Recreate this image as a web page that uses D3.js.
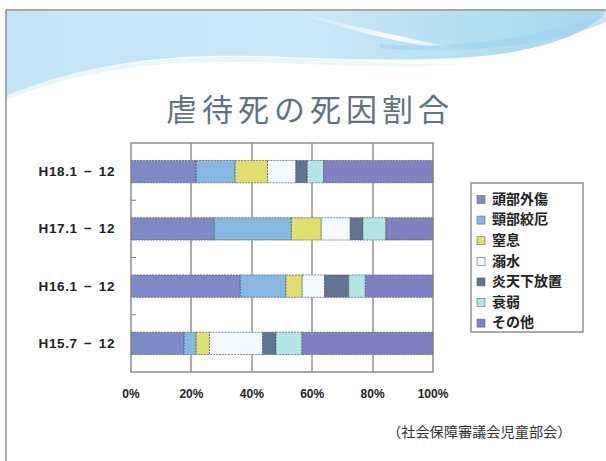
<!DOCTYPE html>
<html>
<head>
<meta charset="utf-8">
<script src="https://cdn.jsdelivr.net/npm/d3@7"></script>
<style>
  html, body { margin: 0; padding: 0; background: #fff; }
</style>
</head>
<body>
<svg id="chart" width="606" height="461"></svg>
<script>
// Periods (top to bottom) and causes of death, shares in percent
const periods = ["H18.1 − 12", "H17.1 − 12", "H16.1 − 12", "H15.7 − 12"];
const causes = ["頭部外傷", "頸部絞厄", "窒息", "溺水", "炎天下放置", "衰弱", "その他"];
const headInjury   = [21.6, 27.6, 36.2, 17.6];
const strangling   = [12.9, 25.5, 15.1, 4.0];
const suffocation  = [10.7, 9.9, 5.4, 4.4];
const drowning     = [9.4, 9.6, 7.4, 17.6];
const heatExposure = [3.8, 4.2, 8.0, 4.4];
const weakness     = [5.4, 7.6, 5.5, 8.6];
const other        = [36.2, 15.6, 22.4, 43.4];
const tickLabels = ["0%", "20%", "40%", "60%", "80%", "100%"];
const gridValues = [20, 40, 60, 80];
const colors = ["#7e8ac6", "#86b8e2", "#e0de6e", "#f3fafd", "#5f7590", "#b3e5e5", "#8180c0"];

const seriesValues = [headInjury, strangling, suffocation, drowning, heatExposure, weakness, other];
const rows = periods.map((p, i) => {
  const r = { period: p };
  causes.forEach((c, k) => { r[c] = seriesValues[k][i]; });
  return r;
});

const svg = d3.select("#chart");

// Scales
const x = d3.scaleLinear().domain([0, 100]).range([131, 433]);
const y = d3.scaleBand().domain(periods).range([143, 372]).paddingInner(0.61).paddingOuter(0.305);

// Slide decoration: light blue waves across the top
const defs = svg.append("defs");
const g1 = defs.append("linearGradient").attr("id", "waveA").attr("x1", 0).attr("y1", 0).attr("x2", 1).attr("y2", 0);
g1.append("stop").attr("offset", "0%").attr("stop-color", "#c2e4f4");
g1.append("stop").attr("offset", "50%").attr("stop-color", "#c8e8f6");
g1.append("stop").attr("offset", "100%").attr("stop-color", "#a5d7ef");
const g2 = defs.append("linearGradient").attr("id", "waveB").attr("x1", 0).attr("y1", 0).attr("x2", 1).attr("y2", 0);
g2.append("stop").attr("offset", "0%").attr("stop-color", "#ffffff").attr("stop-opacity", 0);
g2.append("stop").attr("offset", "60%").attr("stop-color", "#ffffff").attr("stop-opacity", 0.9);
g2.append("stop").attr("offset", "100%").attr("stop-color", "#ffffff").attr("stop-opacity", 0.2);

svg.append("path")
  .attr("d", "M6,11 L606,11 L606,12 C590,30 560,45 500,54 C440,62 360,60 260,56 C170,54 90,62 6,96 Z")
  .attr("fill", "url(#waveA)");
svg.append("path")
  .attr("d", "M6,96 C80,64 160,56 250,57 C330,58 400,66 460,64 C400,70 320,64 250,62 C160,60 80,70 6,100 Z")
  .attr("fill", "#e6f4fa").attr("opacity", 0.8);
svg.append("path")
  .attr("d", "M290,11 C340,22 400,38 470,50 C420,48 360,34 300,14 Z")
  .attr("fill", "url(#waveB)");
svg.append("path")
  .attr("d", "M380,44 C450,50 540,38 606,14 L606,22 C560,42 480,56 380,48 Z")
  .attr("fill", "#9fd2ec").attr("opacity", 0.6);

// Title
svg.append("text")
  .attr("x", 310).attr("y", 113)
  .attr("text-anchor", "middle").attr("dominant-baseline", "middle")
  .attr("font-family", "'Noto Sans CJK JP', sans-serif")
  .attr("font-size", 31).attr("letter-spacing", 5)
  .attr("fill", "#5f7384")
  .text("虐待死の死因割合");

const plot = svg.append("g");

// Stacked bars
const stack = d3.stack().keys(causes);
const layers = stack(rows);
const color = d3.scaleOrdinal().domain(causes).range(colors);

plot.selectAll(".layer").data(layers).join("g")
  .attr("class", "layer")
  .attr("fill", d => color(d.key))
  .selectAll("rect").data(d => d).join("rect")
  .attr("x", d => x(d[0]))
  .attr("y", d => y(d.data.period))
  .attr("width", d => x(d[1]) - x(d[0]))
  .attr("height", y.bandwidth())
  .attr("stroke", "#4e5566").attr("stroke-width", 0.7).attr("stroke-dasharray", "2,1");

// Category labels
svg.append("g").selectAll("text").data(periods).join("text")
  .attr("x", 115).attr("y", d => y(d) + y.bandwidth() / 2 + 1)
  .attr("text-anchor", "end").attr("dominant-baseline", "middle")
  .attr("font-family", "'Liberation Sans', Arial, sans-serif")
  .attr("font-weight", "bold").attr("font-size", 13.5)
  .attr("fill", "#222")
  .attr("letter-spacing", 0.6)
  .attr("word-spacing", 2)
  .text(d => d);

// Percentage tick labels
svg.append("g").selectAll("text").data(tickLabels).join("text")
  .attr("x", (d, i) => x(i * 20)).attr("y", 395)
  .attr("text-anchor", "middle").attr("dominant-baseline", "middle")
  .attr("font-family", "'Liberation Sans', Arial, sans-serif")
  .attr("font-weight", "bold").attr("font-size", 12)
  .attr("fill", "#222")
  .text(d => d);

// Legend
const legend = svg.append("g");
legend.append("rect")
  .attr("x", 471).attr("y", 183).attr("width", 112).attr("height", 149)
  .attr("fill", "#fff").attr("stroke", "#808080").attr("stroke-width", 1.3);
const items = legend.selectAll(".item").data(causes).join("g")
  .attr("class", "item")
  .attr("transform", (d, i) => `translate(477, ${199.5 + i * 20.6})`);
items.append("rect")
  .attr("x", 0).attr("y", -4).attr("width", 8).attr("height", 8)
  .attr("fill", d => color(d)).attr("stroke", "#666").attr("stroke-width", 0.6);
items.append("text")
  .attr("x", 15).attr("y", 0.5)
  .attr("dominant-baseline", "middle")
  .attr("font-family", "'Noto Sans CJK JP', sans-serif")
  .attr("font-weight", "bold").attr("font-size", 14)
  .attr("fill", "#222")
  .text(d => d);

// Source note
svg.append("text")
  .attr("x", 387).attr("y", 433)
  .attr("dominant-baseline", "middle")
  .attr("font-family", "'Noto Sans CJK JP', sans-serif")
  .attr("font-size", 14.2)
  .attr("fill", "#333")
  .text("（社会保障審議会児童部会）");

// Gridlines, drawn in the gaps between the bars
const plotTop = y.range()[0], plotBottom = y.range()[1];
const gaps = [];
let prevEdge = plotTop;
periods.forEach(p => { gaps.push([prevEdge, y(p)]); prevEdge = y(p) + y.bandwidth(); });
gaps.push([prevEdge, plotBottom]);
const gridSegs = [];
gridValues.forEach(v => gaps.forEach(g => gridSegs.push({ v, y0: g[0], y1: g[1] })));
const lines = svg.append("g");
lines.selectAll(".grid").data(gridSegs).join("line")
  .attr("class", "grid")
  .attr("x1", d => Math.round(x(d.v))).attr("x2", d => Math.round(x(d.v)))
  .attr("y1", d => d.y0).attr("y2", d => d.y1)
  .attr("stroke", "#8a8a8a").attr("stroke-width", 1.4);

// Plot border
lines.append("rect")
  .attr("x", 131).attr("y", plotTop).attr("width", 302).attr("height", plotBottom - plotTop)
  .attr("fill", "none").attr("stroke", "#858585").attr("stroke-width", 1.4);

// Inner ticks on the category axis
const boundaries = periods.slice(1).map(p => y(p) - y.step() * y.paddingInner() / 2);
lines.selectAll(".ctick").data(boundaries).join("line")
  .attr("class", "ctick")
  .attr("x1", 131).attr("x2", 136).attr("y1", d => d).attr("y2", d => d)
  .attr("stroke", "#808080");

// Slide frame
lines.append("line").attr("x1", 6).attr("y1", 10).attr("x2", 606).attr("y2", 10)
  .attr("stroke", "#8a8a8a").attr("stroke-width", 1.4);
lines.append("line").attr("x1", 6).attr("y1", 10).attr("x2", 6).attr("y2", 461)
  .attr("stroke", "#8a8a8a").attr("stroke-width", 1.4);
</script>
</body>
</html>
